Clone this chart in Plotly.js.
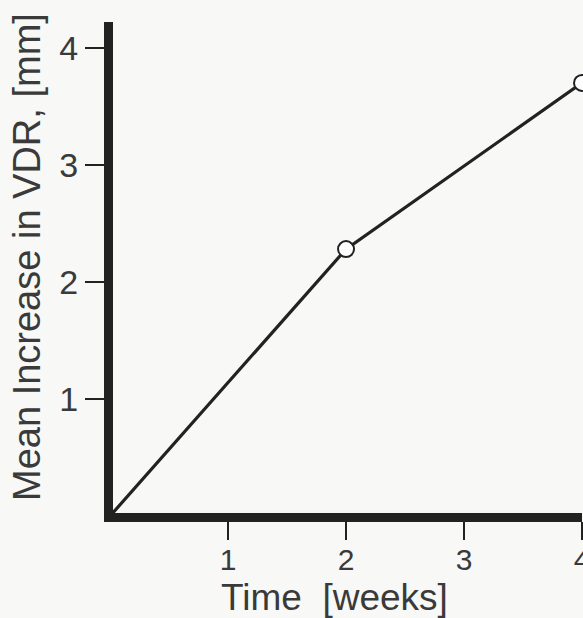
<!DOCTYPE html>
<html>
<head>
<meta charset="utf-8">
<script src="https://cdn.plot.ly/plotly-3.0.1.min.js"></script>
<style>html,body{margin:0;padding:0;background:#f8f8f6;}#chart{width:583px;height:618px;}</style>
</head>
<body>
<div id="chart"></div>
<script>
const timeWeeks = [0, 2, 4];
const meanIncreaseVDR = [0, 2.28, 3.7];
const markerShown = [false, true, true];
const xTickVals = [1, 2, 3, 4];
const xTickText = ['1', '2', '3', '4'];
const yTickVals = [1, 2, 3, 4];
const yTickText = ['1', '2', '3', '4'];
const xTitle = 'Time  [weeks]';
const yTitle = 'Mean Increase in VDR, [mm]';

const ink = '#222222';
const textCol = '#3a3a3a';
const font = 'Liberation Sans, Arial, Helvetica, sans-serif';

const lineTrace = {
  x: timeWeeks, y: meanIncreaseVDR, mode: 'lines', type: 'scatter',
  line: {color: ink, width: 3.2}, hoverinfo: 'skip', showlegend: false, cliponaxis: false
};
const markerTrace = {
  x: timeWeeks.filter((_, i) => markerShown[i]),
  y: meanIncreaseVDR.filter((_, i) => markerShown[i]),
  mode: 'markers', type: 'scatter', showlegend: false, cliponaxis: false,
  marker: {symbol: 'circle', size: 16, color: '#ffffff', line: {color: ink, width: 2}}
};

const layout = {
  width: 583, height: 618,
  margin: {l: 113, r: 1, t: 22, b: 105},
  paper_bgcolor: '#f8f8f6', plot_bgcolor: 'rgba(0,0,0,0)',
  showlegend: false,
  xaxis: {
    range: [0.025, 4], showgrid: false, zeroline: false,
    showline: true, linewidth: 9, linecolor: ink,
    ticks: 'outside', ticklen: 18, tickwidth: 2, tickcolor: ink,
    tickvals: xTickVals, ticktext: xTickText, ticklabeloverflow: 'allow',
    ticklabelstandoff: -6,
    tickfont: {family: font, size: 30, color: textCol}
  },
  yaxis: {
    range: [0.026, 4.22], showgrid: false, zeroline: false,
    showline: true, linewidth: 9, linecolor: ink,
    ticks: 'outside', ticklen: 19, tickwidth: 2, tickcolor: ink,
    tickvals: yTickVals, ticktext: yTickText,
    tickfont: {family: font, size: 34, color: textCol}
  },
  annotations: [
    {text: xTitle, xref: 'paper', yref: 'paper', x: 0.4733, y: -0.1711,
     xanchor: 'center', yanchor: 'middle', showarrow: false,
     font: {family: font, size: 37, color: textCol}},
    {text: yTitle, xref: 'paper', yref: 'paper', x: -0.1834, y: 0.5214,
     xanchor: 'center', yanchor: 'middle', showarrow: false, textangle: -90,
     font: {family: font, size: 38, color: textCol}}
  ]
};

Plotly.newPlot('chart', [lineTrace, markerTrace], layout, {displayModeBar: false, staticPlot: true});
</script>
</body>
</html>
